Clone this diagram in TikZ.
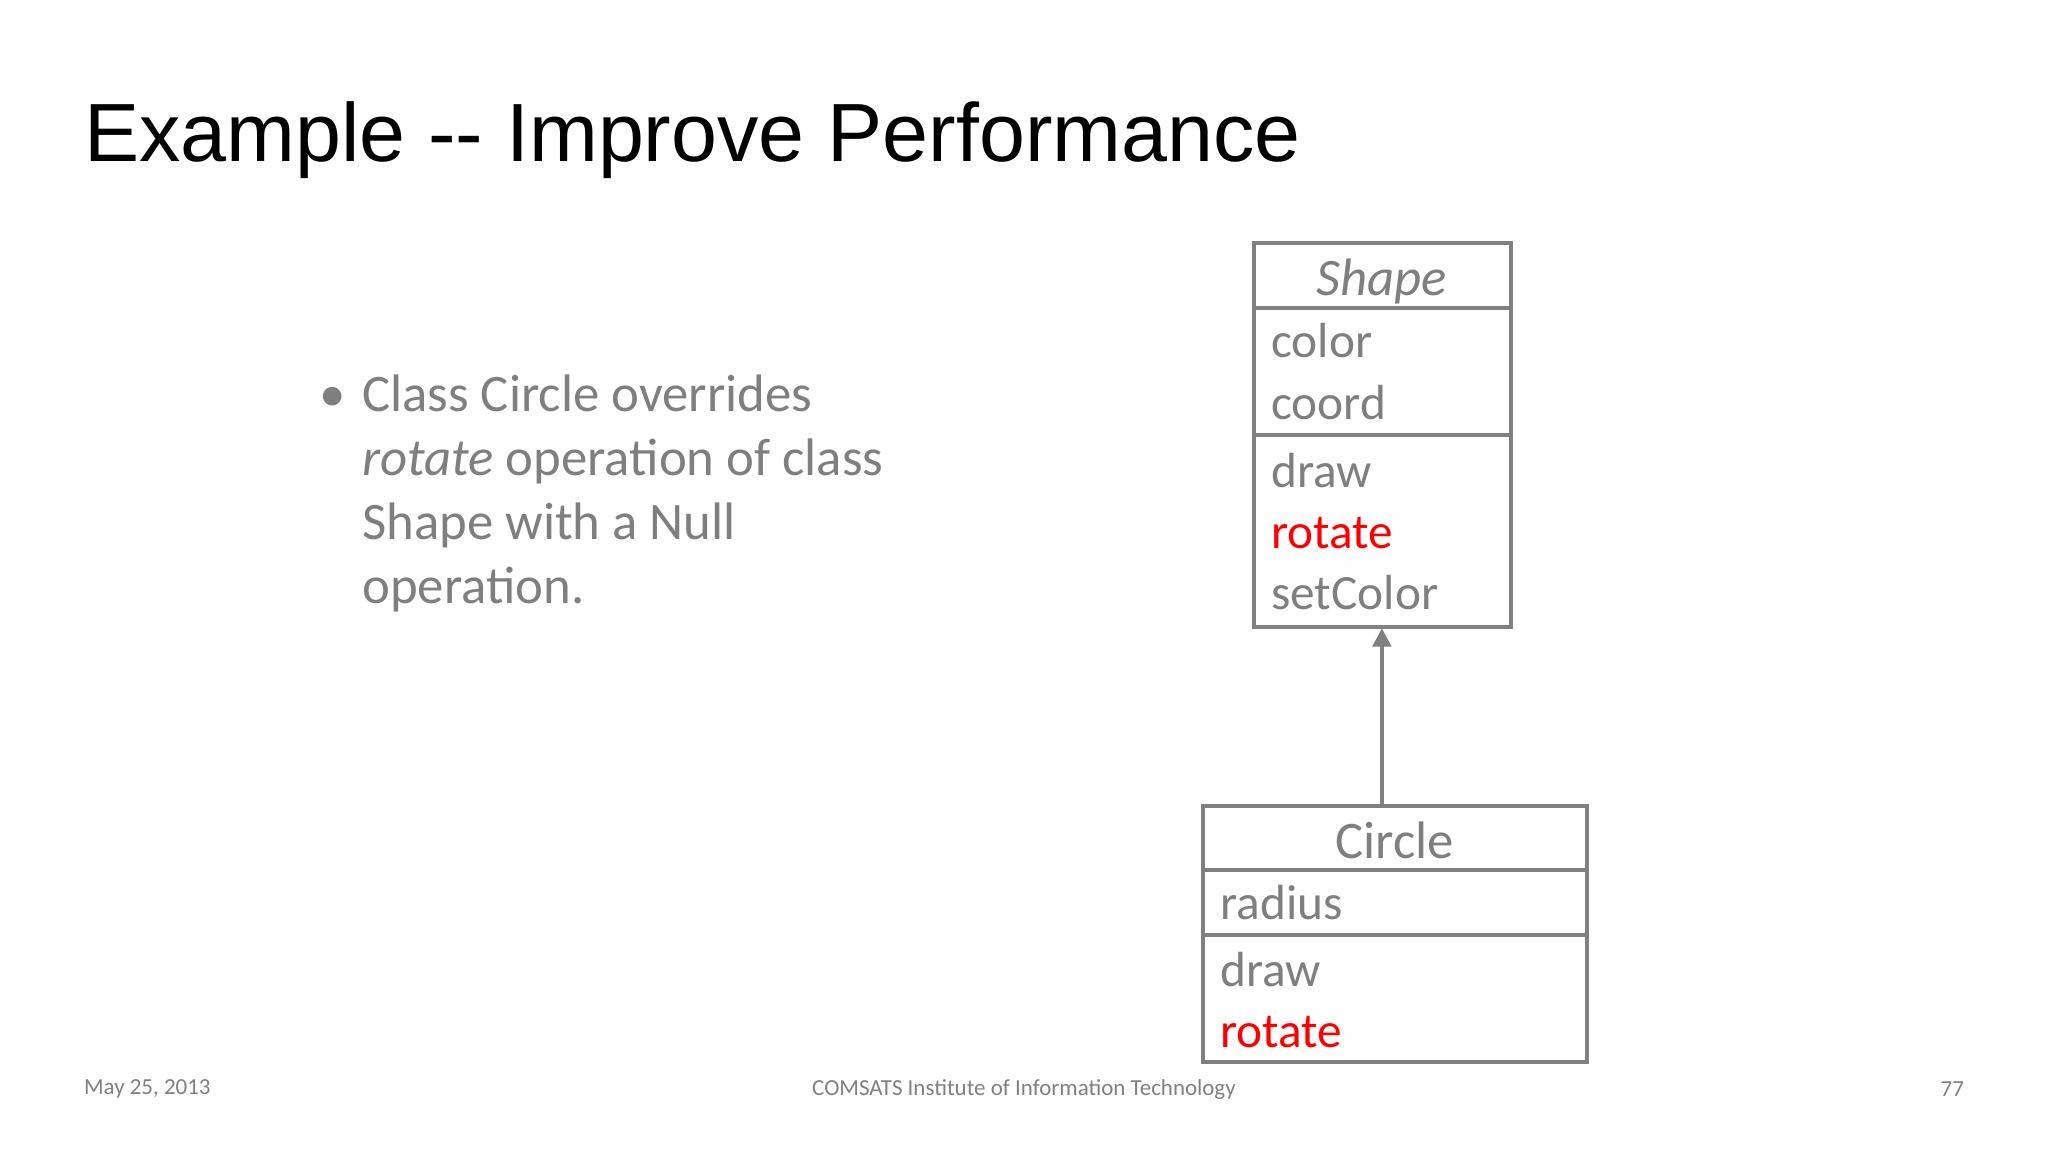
\documentclass[tikz,border=0pt]{standalone}
\usepackage{fontspec}
\setmainfont{Carlito}
\newfontfamily\arialf{Liberation Sans}
\usetikzlibrary{arrows.meta}
\definecolor{tg}{HTML}{7F7F7F}
\definecolor{bx}{HTML}{808080}
\definecolor{rd}{HTML}{FF0000}
\tikzset{
  px/.style={x=0.02cm,y=-0.02cm},
  boxline/.style={draw=bx,line width=1.7pt},
  mem/.style={anchor=base west,inner sep=0pt,text=tg,font=\fontsize{21.5}{24}\selectfont},
  cname/.style={anchor=base,inner sep=0pt,text=tg,font=\fontsize{23}{26}\selectfont},
  body/.style={anchor=base west,inner sep=0pt,text=tg,font=\fontsize{23}{28}\selectfont},
  foot/.style={inner sep=0pt,text=tg,font=\fontsize{10}{12}\selectfont}
}
\begin{document}
\begin{tikzpicture}[px]
\useasboundingbox (0,0) rectangle (1568,882);
\node[anchor=base west,inner sep=0pt,font=\arialf\fontsize{36}{40}\selectfont] (title) at (64,124) {Example -- Improve Performance};
% bullet
\node[text=tg,inner sep=0pt,font=\fontsize{23}{28}\selectfont,anchor=base] (bul) at (255,315) {\textbullet};
\node[body] (b1) at (277,315) {Class Circle overrides};
\node[body] (b2) at (277,364) {\textit{rotate} operation of class};
\node[body] (b3) at (277,413) {Shape with a Null};
\node[body] (b4) at (277,462) {operation.};
% Shape class
\draw[boxline] (960,186) rectangle (1157,480);
\draw[boxline] (960,236) -- (1157,236);
\draw[boxline] (960,333) -- (1157,333);
\node[cname] (sn) at (1058,226) {\textit{Shape}};
\node[mem] (s1) at (973,274) {color};
\node[mem] (s2) at (973,321) {coord};
\node[mem] (s3) at (973,373) {draw};
\node[mem,text=rd] (s4) at (973,420) {rotate};
\node[mem] (s5) at (973,467) {setColor};
\coordinate (stop) at (1058,481);
% Circle class
\draw[boxline] (921,617) rectangle (1215,813);
\draw[boxline] (921,666) -- (1215,666);
\draw[boxline] (921,716) -- (1215,716);
\node[cname] (cn) at (1068,657) {Circle};
\node[mem] (c1) at (934,704) {radius};
\node[mem] (c2) at (934,755) {draw};
\node[mem,text=rd] (c3) at (934,802) {rotate};
\coordinate (ctop) at (1058,617);
\draw[draw=bx,line width=1.7pt,-{Triangle[length=8pt,width=8pt]}] (ctop) -- (stop);
% footer
\node[foot,anchor=west] (f1) at (64,834) {May 25, 2013};
\node[foot] (f2) at (784,834) {COMSATS Institute of Information Technology};
\node[foot,anchor=east] (f3) at (1504,834) {77};
\end{tikzpicture}
\end{document}
